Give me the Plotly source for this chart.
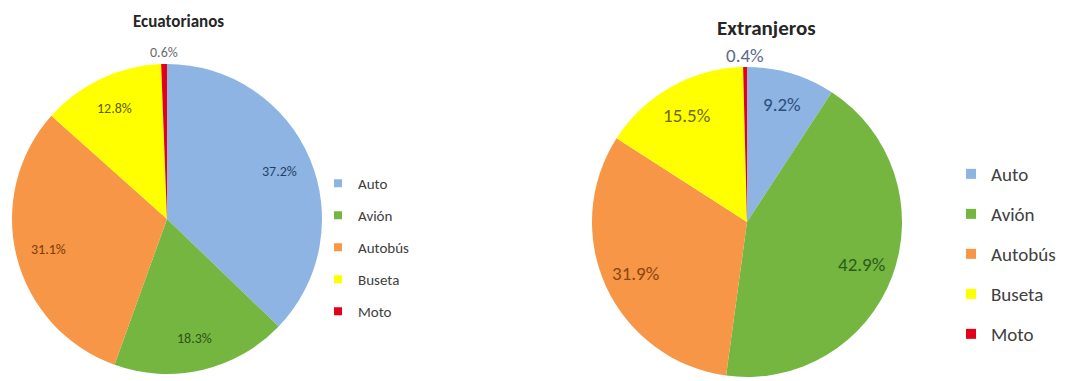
import math
import plotly.graph_objects as go

categories = ["Auto", "Avión", "Autobús", "Buseta", "Moto"]
ecuatorianos = [37.2, 18.3, 31.1, 12.8, 0.6]
extranjeros = [9.2, 42.9, 31.9, 15.5, 0.4]
titles = ["Ecuatorianos", "Extranjeros"]

colors = ["#8DB4E2", "#74B640", "#F79646", "#FFFF00", "#E3001B"]
text_left = ["#243F66", "#2F5217", "#7A3B0C", "#5C5C00", "#6B6B6B"]
text_right = ["#2E4C7E", "#2E5A1A", "#8A4512", "#6B6B10", "#5A6A8A"]

FONT = "Calibri, Carlito, Lato, 'Liberation Sans', sans-serif"
W, H = 1075, 381

# pie geometry (pixels): centre and radius
geo = [dict(cx=167, cy=219, r=155), dict(cx=747, cy=222, r=155)]
label_size = [14, 19]
label_colors = [text_left, text_right]
series = [ecuatorianos, extranjeros]

fig = go.Figure()
annotations = []

for k, vals in enumerate(series):
    g = geo[k]
    dom = dict(x=[(g["cx"] - g["r"]) / W, (g["cx"] + g["r"]) / W],
               y=[1 - (g["cy"] + g["r"]) / H, 1 - (g["cy"] - g["r"]) / H])
    fig.add_trace(go.Pie(
        labels=categories, values=vals, sort=False, direction="clockwise",
        rotation=0, marker=dict(colors=colors, line=dict(width=0)),
        textinfo="none", domain=dom, showlegend=False,
        hoverinfo="label+percent",
    ))
    total = sum(vals)
    cum = 0.0
    for i, v in enumerate(vals):
        theta = 2 * math.pi * (cum + v / 2) / total
        cum += v
        f = 1.075 if v / total < 0.02 else 0.79
        xp = g["cx"] + f * g["r"] * math.sin(theta)
        yp = g["cy"] - f * g["r"] * math.cos(theta)
        annotations.append(dict(
            text=f"{v:.1f}%", x=xp / W, y=1 - yp / H, xref="paper", yref="paper",
            showarrow=False, xanchor="center", yanchor="middle",
            font=dict(size=label_size[k], color=label_colors[k][i], family=FONT)))

# legend entries
for cat, col in zip(categories, colors):
    fig.add_trace(go.Scatter(
        x=[None], y=[None], mode="markers", name=cat,
        marker=dict(symbol="square", size=8, color=col),
        legend="legend", legendgroup="L" + cat, showlegend=True, hoverinfo="skip",
    ))
for cat, col in zip(categories, colors):
    fig.add_trace(go.Scatter(
        x=[None], y=[None], mode="markers", name=cat,
        marker=dict(symbol="square", size=10, color=col),
        legend="legend2", legendgroup="R" + cat, showlegend=True, hoverinfo="skip",
    ))

annotations += [
    dict(text="<b>" + titles[0] + "</b>", x=178 / W, y=1 - 21 / H,
         xref="paper", yref="paper", showarrow=False,
         xanchor="center", yanchor="middle",
         font=dict(size=17, color="#262626", family=FONT)),
    dict(text="<b>" + titles[1] + "</b>", x=766 / W, y=1 - 28 / H,
         xref="paper", yref="paper", showarrow=False,
         xanchor="center", yanchor="middle",
         font=dict(size=21, color="#262626", family=FONT)),
]

fig.update_layout(
    width=W, height=H,
    margin=dict(l=0, r=0, t=0, b=0),
    paper_bgcolor="white", plot_bgcolor="white",
    font=dict(family=FONT, color="#404040"),
    xaxis=dict(visible=False), yaxis=dict(visible=False),
    legend=dict(
        x=318 / W, y=1 - 167 / H, xanchor="left", yanchor="top",
        font=dict(size=15, color="#404040", family=FONT),
        tracegroupgap=9.5, bgcolor="rgba(0,0,0,0)", itemclick=False,
    ),
    legend2=dict(
        x=951 / W, y=1 - 155 / H, xanchor="left", yanchor="top",
        font=dict(size=19, color="#404040", family=FONT),
        tracegroupgap=12.3, bgcolor="rgba(0,0,0,0)", itemclick=False,
    ),
    annotations=annotations,
)

fig.write_html("out.html", config={"displayModeBar": False},
               post_script="document.body.style.margin='0';")
